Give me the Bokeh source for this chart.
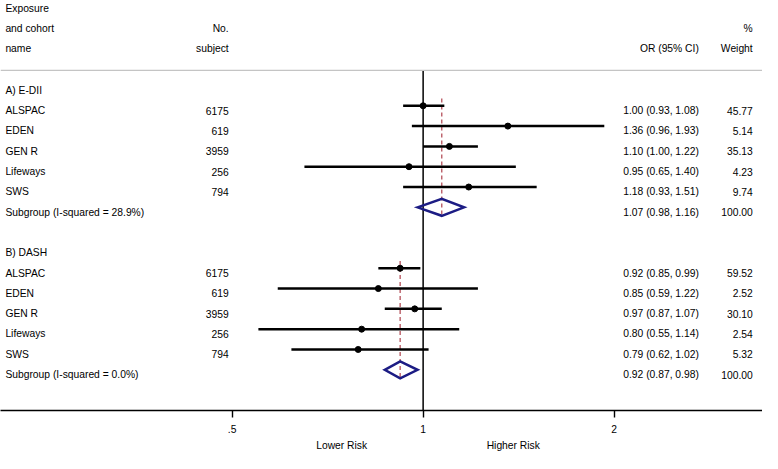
import math
from bokeh.plotting import figure
from bokeh.models import Range1d, FixedTicker, LogAxis, Span, LinearScale
from bokeh.core.properties import value
from bokeh.embed import file_html
from bokeh.resources import INLINE

# ---------------- data ----------------
group_names = ["A) E-DII", "B) DASH"]
cohorts = ["ALSPAC", "EDEN", "GEN R", "Lifeways", "SWS"]
n_subjects = [6175, 619, 3959, 256, 794]

edii_or = [1.00, 1.36, 1.10, 0.95, 1.18]
edii_lo = [0.93, 0.96, 1.00, 0.65, 0.93]
edii_hi = [1.08, 1.93, 1.22, 1.40, 1.51]
edii_wt = [45.77, 5.14, 35.13, 4.23, 9.74]
edii_pooled = [1.07, 0.98, 1.16]
edii_i2 = 28.9

dash_or = [0.92, 0.85, 0.97, 0.80, 0.79]
dash_lo = [0.85, 0.59, 0.87, 0.55, 0.62]
dash_hi = [0.99, 1.22, 1.07, 1.14, 1.02]
dash_wt = [59.52, 2.52, 30.10, 2.54, 5.32]
dash_pooled = [0.92, 0.87, 0.98]
dash_i2 = 0.0

tick_values = [0.5, 1, 2]
tick_labels = [".5", "1", "2"]
risk_labels = ["Lower Risk", "Higher Risk"]

# ---------------- layout ----------------
W, H = 762, 453
REF_W = 778.0
X1_PX = 431.5          # reference pixel of OR = 1
PX_PER_DOUBLING = 195.0
AXIS_Y = 426.0
ROW0 = 88.3
ROW_STEP = 21.1
BASE_OFF = 5.0
FONT = "Liberation Sans"
FS = "10.3px"
NAVY = "#1c1c84"
RED = "#b5505a"

v0 = 2 ** (-X1_PX / PX_PER_DOUBLING)
v1 = 2 ** ((REF_W - X1_PX) / PX_PER_DOUBLING)

p = figure(width=W, height=H, output_backend="svg", toolbar_location=None,
           x_axis_type="log", x_range=Range1d(v0, v1), y_range=Range1d(AXIS_Y, 0),
           y_axis_location=None, min_border_left=0, min_border_right=0,
           min_border_top=0, min_border_bottom=42)
p.extra_x_ranges = {"px": Range1d(0, REF_W)}
p.extra_x_scales = {"px": LinearScale()}
p.xgrid.visible = False
p.ygrid.visible = False
p.outline_line_color = None

ax = p.xaxis[0]
ax.ticker = FixedTicker(ticks=tick_values)
ax.major_label_overrides = {v: l for v, l in zip(tick_values, tick_labels)}
ax.axis_line_width = 1.6
ax.axis_line_color = "black"
ax.major_tick_line_width = 1.4
ax.major_tick_line_color = "black"
ax.major_tick_out = 7
ax.major_tick_in = 0
ax.minor_tick_line_color = None
ax.major_label_standoff = 7
ax.major_label_text_font = FONT
ax.major_label_text_font_size = FS
ax.major_label_text_color = "black"

risk_pos = [0.744, 1.387]
ax2 = LogAxis(ticker=FixedTicker(ticks=risk_pos),
              major_label_overrides={v: l for v, l in zip(risk_pos, risk_labels)},
              axis_line_color=None, major_tick_line_color=None, minor_tick_line_color=None,
              major_tick_out=0, major_tick_in=0, major_label_standoff=4,
              major_label_text_font=FONT, major_label_text_font_size=FS,
              major_label_text_color="black")
p.add_layout(ax2, "below")


def my(k):
    return ROW0 + ROW_STEP * k


def tb(k):
    return my(k) + BASE_OFF


def txt(xs, ys, texts, align):
    p.text(x=xs, y=ys, text=texts, x_range_name="px", text_font=value(FONT),
           text_font_size=FS, text_baseline="alphabetic", text_align=align,
           text_color="black")


# header
txt([5, 5, 5], [8.0, 29.1, 50.2], ["Exposure", "and cohort", "name"], "left")
txt([233, 233], [29.1, 50.2], ["No.", "subject"], "right")
txt([713], [50.2], ["OR (95% CI)"], "right")
txt([768, 768], [29.1, 50.2], ["%", "Weight"], "right")

p.add_layout(Span(location=72.5, dimension="width", line_color="#c4c4c4", line_width=1.3))
p.segment(x0=[1], y0=[72.5], x1=[1], y1=[AXIS_Y], line_color="black", line_width=1.5)

groups = [
    (group_names[0], edii_or, edii_lo, edii_hi, edii_wt, edii_pooled, edii_i2, 0),
    (group_names[1], dash_or, dash_lo, dash_hi, dash_wt, dash_pooled, dash_i2, 8),
]

for name, ors, los, his, wts, pooled, i2, k0 in groups:
    ks = [k0 + 1 + i for i in range(len(cohorts))]
    ksub = k0 + 1 + len(cohorts)
    ys = [my(k) for k in ks]
    ysub = my(ksub)

    left_txt = [name] + cohorts + [f"Subgroup (I-squared = {i2:.1f}%)"]
    left_y = [tb(k0)] + [tb(k) for k in ks] + [tb(ksub)]
    txt([5] * len(left_txt), left_y, left_txt, "left")
    txt([233] * len(cohorts), [tb(k) for k in ks], [str(n) for n in n_subjects], "right")
    or_txt = [f"{o:.2f} ({l:.2f}, {h:.2f})" for o, l, h in zip(ors, los, his)]
    or_txt.append(f"{pooled[0]:.2f} ({pooled[1]:.2f}, {pooled[2]:.2f})")
    txt([713] * len(or_txt), [tb(k) for k in ks] + [tb(ksub)], or_txt, "right")
    wt_txt = [f"{w:.2f}" for w in wts] + ["100.00"]
    txt([768] * len(wt_txt), [tb(k) for k in ks] + [tb(ksub)], wt_txt, "right")

    # pooled dashed line
    p.segment(x0=[pooled[0]], y0=[ys[0] - 7.5], x1=[pooled[0]], y1=[ysub + 8.8],
              line_color=RED, line_width=1.3, line_dash="4 3")
    # CIs and points
    p.segment(x0=los, y0=ys, x1=his, y1=ys, line_color="black", line_width=2.5)
    p.scatter(x=ors, y=ys, size=6, color="black")
    # diamond
    p.patches(xs=[[pooled[1], pooled[0], pooled[2], pooled[0]]],
              ys=[[ysub, ysub - 8.8, ysub, ysub + 8.8]],
              fill_color=None, line_color=NAVY, line_width=2.5, line_join="miter")

open("out.html", "w").write(file_html(p, INLINE))
